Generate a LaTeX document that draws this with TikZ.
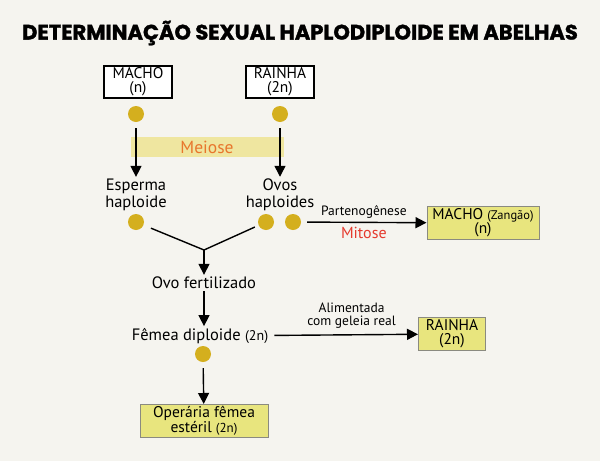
\documentclass[tikz,border=0pt]{standalone}
\usepackage{fontspec}
\setmainfont{PT Sans}
\newfontfamily\titlefont{Poppins}[BoldFeatures={FakeBold=1.5}]
\usetikzlibrary{arrows.meta}
\definecolor{fundo}{HTML}{F5F4EF}
\definecolor{ouro}{HTML}{D4AF1E}
\definecolor{amarelo}{HTML}{E8E57E}
\definecolor{faixa}{HTML}{EFE6A0}
\definecolor{laranja}{HTML}{E8762C}
\definecolor{vermelho}{HTML}{E53A2E}
\definecolor{borda}{HTML}{8A8A80}

\begin{document}
\begin{tikzpicture}[x=1pt,y=-1pt,
    caixa/.style={draw=black,line width=1.2pt,fill=white,align=center,inner sep=1pt,
      minimum width=68,minimum height=32,font=\fontsize{15.5}{14}\selectfont},
    caixaam/.style={draw=borda,line width=1pt,fill=amarelo,align=center,inner sep=1pt,
      minimum height=33,font=\fontsize{15.5}{14}\selectfont},
    ponto/.style={circle,fill=ouro,inner sep=0pt,minimum size=16},
    rotulo/.style={align=center,inner sep=2pt,font=\fontsize{16.5}{17}\selectfont},
    pequeno/.style={align=center,font=\fontsize{13.5}{13}\selectfont},
    seta/.style={-{Triangle[length=11pt,width=11pt]},line width=1.4pt},
    linha/.style={line width=1.4pt}]
    \fill[fundo] (0,0) rectangle (600,461);
    \useasboundingbox (0,0) rectangle (600,461);
    % titulo
    \node[font=\titlefont\bfseries\fontsize{21}{21}\selectfont] (titulo) at (300,33)
        {DETERMINAÇÃO SEXUAL HAPLODIPLOIDE EM ABELHAS};
    % pais
    \node[caixa] (macho) at (138,82) {MACHO\\(n)};
    \node[caixa] (rainha) at (280,82) {RAINHA\\(2n)};
    \node[ponto] (pm) at (136,114) {};
    \node[ponto] (pr) at (280,114) {};
    \node[fill=faixa,minimum width=153,minimum height=20,inner sep=0pt,
        text=laranja,font=\fontsize{17.5}{17}\selectfont] (meiose) at (207,147) {Meiose};
    % gametas
    \node[rotulo] (esperma) at (136,195) {Esperma\\haploide};
    \node[rotulo] (ovos) at (280,195) {Ovos\\haploides};
    \draw[seta,shorten <=6pt] (pm) -- (esperma);
    \draw[seta,shorten <=6pt] (pr) -- (ovos);
    \node[ponto] (pe) at (136,222) {};
    \node[ponto] (po) at (266,222) {};
    \node[ponto] (pp) at (293,222) {};
    \coordinate (junta) at (204,250);
    \draw[linha,shorten <=8pt] (pe) -- (junta);
    \draw[linha,shorten <=4pt] (po) -- (junta);
    % partenogenese
    \node[caixaam,minimum width=112] (zangao) at (483,223)
        {MACHO {\fontsize{12.5}{14}\selectfont(Zangão)}\\(n)};
    \draw[seta,shorten <=6pt] (pp) --
        node[pequeno,above=0pt] {Partenogênese}
        node[below=1pt,text=vermelho,font=\fontsize{16}{16}\selectfont] {Mitose} (zangao);
    % fecundacao
    \node[rotulo] (fert) at (204,283) {Ovo fertilizado};
    \draw[seta] (junta) -- (fert);
    \node[rotulo] (femea) at (200,336) {Fêmea diploide {\fontsize{14}{14}\selectfont(2n)}};
    \draw[seta] (fert.south) -- (fert.south |- femea.north);
    \node[caixaam,minimum width=67] (rainha2) at (452,334) {RAINHA\\(2n)};
    \draw[seta,shorten <=4pt] (femea) -- node[pequeno,above=2pt,pos=0.55] {Alimentada\\com geleia real} (rainha2);
    \node[ponto] (pf) at (203,354) {};
    \node[caixaam,minimum width=128] (operaria) at (204,421)
        {Operária fêmea\\estéril {\fontsize{13}{14}\selectfont(2n)}};
    \draw[seta,shorten <=6pt] (pf) -- (operaria);
\end{tikzpicture}
\end{document}
